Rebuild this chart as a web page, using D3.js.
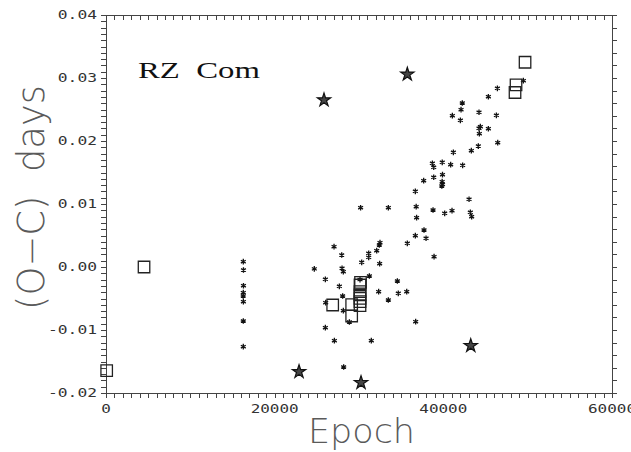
<!DOCTYPE html>
<html>
<head>
<meta charset="utf-8">
<script src="https://cdn.jsdelivr.net/npm/d3@7"></script>
<style>
  body { margin: 0; background: #fff; }
  svg { display: block; }
  text { white-space: pre; }
</style>
</head>
<body>
<div id="chart"></div>
<script>

const width = 631
const height = 452

// O-C data (epoch, days)
const asterEpoch = [
  16280, 16300, 16300, 16280, 16270, 16290, 16280, 16280,
  24700, 27040, 27950, 27990, 28140, 26010, 27670, 28060, 26050, 28140, 28860, 26010,
  27080, 31460, 28180, 30320, 31150, 31150, 32100, 32410, 32490, 35730, 32450, 31230,
  34550, 32330, 34660, 35660, 33480, 36720, 30120,
  36680, 37710, 37950, 38900, 30190, 33480, 36780, 36830, 38780, 40160, 41030, 43050,
  43200, 43360, 36680, 37670, 38860, 39900, 39860, 39900, 39820, 38700, 38860, 39870,
  40870, 42290, 41190, 43320, 44150, 46450, 44230, 44390, 44270, 45340, 46290, 44230,
  41070, 42020, 42100, 42250, 45340, 46410, 49490
]
const asterOC = [
  0.00084, -0.00048, -0.00297, -0.00408, -0.0046, -0.0055, -0.00857, -0.01265,
  -0.00030, 0.00323, 0.0019, -0.0002, -0.00075, -0.00196, -0.00307, -0.0046, -0.00566, -0.00693, -0.00873, -0.00963,
  -0.0117, -0.0117, -0.01587, 0.00074, 0.00217, 0.00153, 0.00259, 0.00349, 0.00386, 0.00376, 0.00053, -0.00143,
  -0.00222, -0.00392, -0.00418, -0.00392, -0.00524, -0.00868, -0.0020,
  0.00497, 0.00587, 0.00456, 0.00164, 0.00941, 0.00941, 0.00957, 0.00783, 0.00905, 0.00852, 0.00894, 0.01075,
  0.00868, 0.00798, 0.01201, 0.0137, 0.01424, 0.01465, 0.01354, 0.01313, 0.01286, 0.01646, 0.01583, 0.01662,
  0.01624, 0.01614, 0.0182, 0.01846, 0.0192, 0.01973, 0.02201, 0.02227, 0.02116, 0.02195, 0.02408, 0.02456,
  0.02402, 0.02328, 0.02497, 0.02603, 0.02703, 0.02836, 0.02957
]

const squareEpoch = [80, 4510, 49690, 48620, 48500, 26880, 29130, 29130,
  30180, 30120, 30120, 30120, 30120, 30120, 30120]
const squareOC = [-0.01646, 0.0000, 0.0325, 0.0289, 0.0277, -0.00603, -0.00598, -0.00778,
  -0.00243, -0.00286, -0.00392, -0.00444, -0.00497, -0.00550, -0.00614]

const starEpoch = [22890, 30240, 43250, 25850, 35730]
const starOC = [-0.01662, -0.01836, -0.01249, 0.02651, 0.03059]

const xMajor = [0, 20000, 40000, 60000]
const yMajor = [-0.02, -0.01, 0.00, 0.01, 0.02, 0.03, 0.04]

const xTitle = 'Epoch'
const yTitle = '(O\u2212C)  days'
const starName = 'RZ  Com'

const plotLeft = 106, plotRight = 612, plotTop = 15, plotBottom = 393

const svg = d3.select('#chart')
  .append('svg')
  .attr('width', width)
  .attr('height', height)

const x = d3.scaleLinear().domain([0, 60000]).range([plotLeft, plotRight])
const y = d3.scaleLinear().domain([-0.02, 0.04]).range([plotBottom, plotTop])

const axisColour = '#444'
const labelFont = '"DejaVu Sans Mono", monospace'

// minor + major ticks, no labels
const gBottom = svg.append('g')
  .attr('transform', `translate(0, ${plotBottom})`)
  .call(d3.axisBottom(x).tickValues(x.ticks(60)).tickSize(5).tickSizeOuter(0).tickFormat(''))
const gTop = svg.append('g')
  .attr('transform', `translate(0, ${plotTop})`)
  .call(d3.axisBottom(x).tickValues(x.ticks(60)).tickSize(5).tickSizeOuter(0).tickFormat(''))
const gLeft = svg.append('g')
  .attr('transform', `translate(${plotLeft}, 0)`)
  .call(d3.axisLeft(y).tickValues(y.ticks(60)).tickSize(5).tickSizeOuter(0).tickFormat(''))
const gRight = svg.append('g')
  .attr('transform', `translate(${plotRight}, 0)`)
  .call(d3.axisRight(y).tickValues(y.ticks(30)).tickSize(5).tickSizeOuter(0).tickFormat(''))

;[gBottom, gTop, gLeft, gRight].forEach(g => {
  g.selectAll('path, line').attr('stroke', axisColour).attr('stroke-width', 1).attr('shape-rendering', 'crispEdges')
})

// tick labels
svg.append('g')
  .selectAll('text')
  .data(xMajor)
  .join('text')
  .attr('x', d => x(d))
  .attr('y', plotBottom + 20)
  .attr('text-anchor', 'middle')
  .attr('font-family', labelFont)
  .attr('font-size', 13)
  .attr('fill', '#333')
  .attr('textLength', d => String(d).length * 9.6)
  .attr('lengthAdjust', 'spacingAndGlyphs')
  .text(d => String(d))

svg.append('g')
  .selectAll('text')
  .data(yMajor)
  .join('text')
  .attr('x', plotLeft - 9)
  .attr('y', d => y(d) + 3.5)
  .attr('text-anchor', 'end')
  .attr('font-family', labelFont)
  .attr('font-size', 13)
  .attr('fill', '#333')
  .attr('textLength', d => d.toFixed(2).length * 9.8)
  .attr('lengthAdjust', 'spacingAndGlyphs')
  .text(d => d.toFixed(2))

// titles (thin strokes in the original, so a grey fill)
svg.append('text')
  .attr('x', 308)
  .attr('y', 443)
  .attr('font-family', '"DejaVu Sans", sans-serif')
  .attr('font-weight', 200)
  .attr('font-size', 34)
  .attr('fill', '#5a5a5a')
  .attr('textLength', 107)
  .attr('lengthAdjust', 'spacingAndGlyphs')
  .text(xTitle)

svg.append('text')
  .attr('transform', `translate(44, 310) rotate(-90)`)
  .attr('font-family', '"DejaVu Sans", sans-serif')
  .attr('font-weight', 200)
  .attr('font-size', 37)
  .attr('fill', '#5a5a5a')
  .attr('textLength', 225)
  .attr('lengthAdjust', 'spacingAndGlyphs')
  .text(yTitle)

svg.append('text')
  .attr('x', 138)
  .attr('y', 78)
  .attr('font-family', '"Liberation Serif", serif')
  .attr('font-size', 23)
  .attr('fill', '#111')
  .attr('textLength', 122)
  .attr('lengthAdjust', 'spacingAndGlyphs')
  .text(starName)

// markers
const asterisk = d3.symbol().type(d3.symbolAsterisk).size(22)
svg.append('g')
  .selectAll('path')
  .data(d3.range(asterEpoch.length))
  .join('path')
  .attr('d', asterisk)
  .attr('transform', i => `translate(${x(asterEpoch[i])}, ${y(asterOC[i])})`)
  .attr('fill', 'none')
  .attr('stroke', '#111')
  .attr('stroke-width', 1.3)

const square = d3.symbol().type(d3.symbolSquare).size(132)
svg.append('g')
  .selectAll('path')
  .data(d3.range(squareEpoch.length))
  .join('path')
  .attr('d', square)
  .attr('transform', i => `translate(${x(squareEpoch[i])}, ${y(squareOC[i])})`)
  .attr('fill', 'none')
  .attr('stroke', '#222')
  .attr('stroke-width', 1.3)

const star = d3.symbol().type(d3.symbolStar).size(55)
svg.append('g')
  .selectAll('path')
  .data(d3.range(starEpoch.length))
  .join('path')
  .attr('d', star)
  .attr('transform', i => `translate(${x(starEpoch[i])}, ${y(starOC[i])})`)
  .attr('fill', '#444')
  .attr('stroke', '#111')
  .attr('stroke-width', 1.2)

</script>
</body>
</html>
